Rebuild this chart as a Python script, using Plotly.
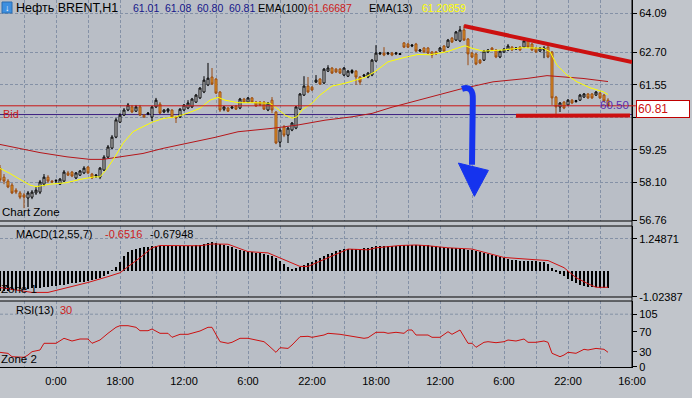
import plotly.graph_objects as go

# ---------------- data ----------------
opens = [58.60, 58.28, 58.14, 58.00, 57.82, 57.72, 57.65, 57.54, 57.57, 57.72,
         57.75, 58.03, 58.28, 58.14, 58.14, 58.03, 58.14, 58.43, 58.46, 58.25,
         58.35, 58.43, 58.64, 58.39, 58.32, 58.28, 58.53, 58.99, 59.31, 59.70,
         60.23, 60.48, 60.66, 60.77, 60.62, 60.77, 60.48, 60.52, 60.41, 60.77,
         60.87, 60.59, 60.62, 60.66, 60.41, 60.41, 60.66, 60.73, 60.77, 60.94,
         61.09, 61.30, 61.55, 61.83, 61.76, 61.30, 60.69, 60.73, 60.73, 60.80,
         60.73, 61.05, 60.94, 61.09, 60.94, 60.94, 60.94, 60.66, 61.01, 60.59,
         59.52, 60.06, 59.77, 59.95, 60.02, 60.69, 61.19, 61.51, 61.47, 61.65,
         61.76, 61.62, 62.04, 62.15, 62.11, 62.11, 61.90, 61.86, 61.99, 62.04,
         61.83, 61.86, 61.83, 61.90, 62.40, 62.65, 62.68, 62.65, 62.68, 62.65,
         62.63, 63.04, 63.00, 62.93, 63.00, 62.75, 62.86, 62.86, 62.72, 62.72,
         62.75, 62.93, 62.89, 63.21, 63.14, 63.11, 63.50, 63.18, 62.68, 62.65,
         62.43, 62.43, 62.72, 62.86, 62.79, 62.54, 62.72, 62.79, 62.89, 62.82,
         62.89, 62.89, 63.11, 63.00, 62.86, 62.75, 62.79, 62.89, 62.72, 61.12,
         60.77, 60.94, 60.84, 61.01, 60.96, 61.01, 61.12, 61.23, 61.23, 61.19,
         61.26, 61.19, 61.01]
closes = [58.18, 58.14, 57.93, 57.72, 57.75, 57.57, 57.57, 57.72, 57.75, 57.82,
          58.11, 58.28, 58.14, 58.11, 58.16, 58.21, 58.46, 58.35, 58.32, 58.43,
          58.50, 58.60, 58.43, 58.25, 58.35, 58.60, 58.99, 59.35, 59.70, 60.31,
          60.48, 60.66, 60.84, 60.59, 60.77, 60.48, 60.41, 60.55, 60.77, 61.01,
          60.55, 60.66, 60.69, 60.41, 60.38, 60.69, 60.84, 60.91, 61.05, 61.19,
          61.44, 61.72, 61.79, 61.58, 61.26, 60.66, 60.77, 60.62, 60.77, 60.69,
          61.05, 60.94, 61.09, 60.94, 60.80, 60.84, 60.69, 60.91, 60.66, 59.49,
          59.95, 59.77, 60.02, 60.20, 60.77, 61.23, 61.51, 61.30, 61.37, 61.72,
          61.58, 62.11, 62.15, 61.97, 62.01, 61.97, 62.15, 62.04, 62.06, 61.83,
          61.65, 61.90, 61.97, 62.43, 62.68, 62.68, 62.61, 62.68, 62.61, 62.68,
          62.66, 62.89, 62.89, 62.96, 62.75, 62.79, 62.72, 62.68, 62.61, 62.65,
          62.86, 62.75, 63.14, 63.07, 63.43, 63.50, 63.14, 62.65, 62.54, 62.29,
          62.33, 62.75, 62.79, 62.79, 62.54, 62.75, 62.82, 62.93, 62.79, 62.86,
          62.79, 63.11, 62.89, 62.79, 62.72, 62.86, 62.86, 62.54, 61.09, 60.77,
          60.91, 60.73, 61.01, 60.91, 60.99, 61.19, 61.23, 61.09, 61.09, 61.30,
          61.09, 60.98, 60.81]
highs = [58.71, 58.39, 58.21, 58.07, 57.89, 57.79, 57.72, 57.79, 57.82, 57.93,
         58.18, 58.39, 58.35, 58.18, 58.21, 58.25, 58.53, 58.50, 58.50, 58.46,
         58.53, 58.67, 58.67, 58.43, 58.39, 58.64, 59.06, 59.42, 59.77, 60.38,
         60.55, 60.73, 60.91, 60.84, 60.84, 60.84, 60.52, 60.59, 60.80, 61.09,
         60.94, 60.69, 60.73, 60.69, 60.45, 60.73, 60.87, 61.01, 61.09, 61.23,
         61.47, 61.86, 62.33, 62.15, 61.79, 61.33, 60.80, 60.77, 60.80, 60.84,
         61.09, 61.09, 61.12, 61.12, 60.98, 60.98, 60.98, 60.94, 61.12, 60.62,
         60.02, 60.13, 60.06, 60.23, 60.80, 61.26, 61.86, 61.83, 61.51, 61.90,
         61.79, 62.15, 62.25, 62.18, 62.15, 62.15, 62.18, 62.08, 62.11, 62.08,
         61.86, 61.94, 62.01, 62.47, 62.96, 62.72, 62.89, 62.72, 62.72, 62.72,
         62.68, 63.07, 63.04, 63.00, 63.04, 62.82, 62.89, 62.89, 62.75, 62.75,
         62.89, 62.96, 63.18, 63.25, 63.46, 63.64, 63.67, 63.21, 62.72, 62.68,
         62.47, 62.79, 62.82, 62.89, 62.82, 62.79, 62.86, 63.00, 62.93, 62.89,
         62.93, 63.14, 63.14, 63.04, 62.89, 62.89, 62.93, 63.04, 62.75, 61.16,
         60.94, 60.98, 61.05, 61.05, 61.02, 61.23, 61.26, 61.26, 61.26, 61.33,
         61.30, 61.23, 61.08]
lows = [58.11, 58.03, 57.89, 57.68, 57.68, 57.50, 57.18, 57.22, 57.50, 57.65,
        57.68, 57.96, 58.07, 58.07, 58.07, 58.00, 58.11, 58.32, 58.28, 58.21,
        58.32, 58.39, 58.39, 58.21, 58.25, 58.21, 58.50, 58.96, 59.28, 59.66,
        60.20, 60.45, 60.62, 60.55, 60.59, 60.45, 60.38, 60.48, 60.27, 60.73,
        60.52, 60.55, 60.55, 60.38, 60.20, 60.38, 60.62, 60.69, 60.73, 60.91,
        61.05, 61.26, 61.51, 61.55, 61.23, 60.59, 60.62, 60.59, 60.69, 60.66,
        60.69, 60.91, 60.91, 60.91, 60.77, 60.80, 60.66, 60.62, 60.55, 59.45,
        59.35, 59.70, 59.49, 59.91, 59.98, 60.66, 61.16, 61.26, 61.33, 61.62,
        61.55, 61.58, 62.01, 61.94, 61.97, 61.94, 61.86, 61.83, 61.94, 61.55,
        61.55, 61.83, 61.79, 61.86, 62.36, 62.61, 62.57, 62.61, 62.57, 62.61,
        62.61, 62.86, 62.86, 62.89, 62.72, 62.72, 62.68, 62.65, 62.50, 62.61,
        62.72, 62.72, 62.86, 63.04, 63.11, 63.07, 63.11, 62.25, 62.50, 62.25,
        62.29, 62.40, 62.68, 62.75, 62.50, 62.50, 62.68, 62.75, 62.75, 62.79,
        62.75, 62.86, 62.86, 62.75, 62.68, 62.72, 62.50, 62.50, 60.84, 60.52,
        60.59, 60.69, 60.80, 60.87, 60.92, 60.98, 61.09, 61.05, 61.05, 61.16,
        61.05, 60.94, 60.80]

ema13_bar = [0, 2.5, 5, 7.5, 9, 12.5, 16.5, 20, 23.5, 25, 26.5, 28.75, 30.75, 33.25,
             35.75, 38.25, 40.75, 44, 46.75, 50, 52.5, 54.5, 56.25, 59.5, 63.75, 67.5,
             69.25, 71.25, 73, 74.25, 75.5, 78, 80, 83, 86.25, 88.75, 91.25, 93.75,
             97, 101.25, 104.5, 107.5, 111.75, 114.25, 116.25, 118, 120.75, 125.75,
             130.75, 135.75, 137.5, 139.25, 141.75, 144.25, 147.5, 150.75, 152]
ema13_val = [58.59, 58.41, 58.20, 58.00, 57.94, 58.03, 58.08, 58.20, 58.29, 58.29,
             58.53, 59.00, 59.48, 59.89, 60.07, 60.24, 60.36, 60.42, 60.54, 60.72,
             61.01, 61.11, 61.01, 60.92, 60.92, 60.90, 60.72, 60.48, 60.37, 60.42,
             60.66, 60.90, 61.19, 61.51, 61.61, 61.72, 61.82, 62.02, 62.37, 62.53,
             62.63, 62.62, 62.73, 62.85, 62.94, 62.85, 62.75, 62.79, 62.87, 62.85,
             62.73, 62.25, 61.90, 61.66, 61.45, 61.31, 61.21]

ema100_bar = [0, 5, 10, 16.75, 22.5, 25.75, 30, 35.75, 40.75, 46.75, 51.25, 53.75,
              59.5, 68, 74.5, 81.25, 88, 93, 98, 102.5, 107.5, 115, 123.25, 131.75,
              136.75, 140, 145.75, 152]
ema100_val = [59.44, 59.30, 59.15, 59.00, 58.91, 58.91, 59.00, 59.12, 59.30, 59.48,
              59.62, 59.69, 59.89, 60.01, 60.13, 60.30, 60.42, 60.54, 60.76, 60.93,
              61.13, 61.40, 61.66, 61.78, 61.88, 61.84, 61.78, 61.67]

macd_hist = [-0.78, -0.78, -0.78, -0.76, -0.74, -0.72, -0.70, -0.70, -0.68, -0.66,
             -0.66, -0.64, -0.62, -0.60, -0.58, -0.56, -0.55, -0.51, -0.49, -0.47,
             -0.45, -0.43, -0.39, -0.35, -0.31, -0.27, -0.20, -0.12, 0.02, 0.16,
             0.35, 0.59, 0.74, 0.82, 0.86, 0.90, 0.92, 0.94, 0.96, 0.98,
             0.97, 0.98, 0.99, 0.98, 0.97, 0.97, 0.98, 0.99, 0.99, 1.00,
             1.01, 1.05, 1.09, 1.11, 1.09, 1.05, 1.01, 0.98, 0.92, 0.86,
             0.82, 0.78, 0.74, 0.72, 0.70, 0.68, 0.66, 0.62, 0.59, 0.51,
             0.39, 0.27, 0.16, 0.08, 0.10, 0.14, 0.21, 0.29, 0.35, 0.43,
             0.51, 0.59, 0.64, 0.70, 0.76, 0.80, 0.84, 0.86, 0.86, 0.86,
             0.86, 0.88, 0.90, 0.94, 0.98, 0.98, 0.98, 0.98, 0.98, 0.98,
             0.98, 1.00, 1.01, 1.01, 1.01, 1.01, 1.00, 1.00, 0.98, 0.96,
             0.94, 0.92, 0.90, 0.90, 0.90, 0.88, 0.86, 0.82, 0.80, 0.76,
             0.72, 0.68, 0.64, 0.62, 0.59, 0.55, 0.51, 0.47, 0.43, 0.41,
             0.39, 0.39, 0.39, 0.39, 0.37, 0.35, 0.35, 0.27, 0.12, -0.02,
             -0.12, -0.20, -0.31, -0.40, -0.48, -0.55, -0.59, -0.62, -0.64, -0.65,
             -0.66, -0.67, -0.68]
signal_bar = [0, 5, 8, 12, 17, 22, 27, 30, 32, 35, 38, 40, 50, 53, 57, 62, 67, 71, 75,
              77, 81, 87, 92, 94, 100, 104, 107, 112, 118, 122, 126, 134, 137, 141,
              144, 147, 149, 152]
signal_val = [-0.66, -0.77, -0.85, -0.85, -0.66, -0.46, -0.23, -0.08, 0.16, 0.51,
              0.90, 0.99, 0.98, 1.05, 1.04, 0.75, 0.70, 0.43, 0.17, 0.17, 0.43, 0.85,
              0.82, 0.90, 0.99, 1.01, 0.98, 0.90, 0.85, 0.70, 0.52, 0.43, 0.40, 0.12,
              -0.27, -0.51, -0.65, -0.65]

rsi_bar = [0, 2, 3, 6, 7, 8, 10, 11, 12, 14, 16, 18, 20, 22, 23, 25, 27, 29, 30, 32,
           34, 35, 37, 38, 40, 42, 43, 45, 47, 50, 52, 53, 55, 57, 58, 60, 62, 64, 66,
           67, 69, 70, 72, 73, 75, 77, 78, 81, 82, 85, 87, 89, 91, 92, 94, 96, 97, 99,
           101, 102, 103, 104, 107, 108, 110, 112, 113, 115, 117, 118, 119, 121, 122,
           124, 126, 127, 129, 131, 132, 134, 136, 137, 138, 140, 141, 142, 144, 146,
           147, 149, 151, 152]
rsi_val = [28.7, 26.7, 20.0, 18.8, 23.4, 30.0, 33.4, 46.8, 46.8, 46.8, 56.8, 51.4,
           55.4, 55.4, 46.8, 53.4, 66.8, 78.8, 82.0, 82.0, 78.8, 72.0, 72.0, 75.4,
           66.8, 66.8, 58.8, 64.8, 64.8, 71.4, 78.8, 78.8, 50.0, 46.8, 48.8, 56.8,
           56.8, 53.4, 50.0, 43.4, 28.7, 38.0, 36.6, 43.4, 60.0, 60.8, 58.8, 63.4,
           66.8, 64.8, 62.0, 60.0, 56.8, 58.0, 68.8, 68.8, 66.8, 68.8, 66.8, 73.4,
           73.4, 63.4, 63.4, 58.8, 58.8, 70.0, 64.8, 73.4, 46.8, 46.8, 38.8, 48.8,
           50.0, 48.0, 50.0, 53.4, 51.4, 55.4, 48.8, 48.8, 51.4, 48.8, 26.8, 20.0,
           23.4, 28.8, 26.8, 34.8, 33.4, 36.6, 34.8, 28.8]

price_ticks = [64.09, 62.70, 61.55, 60.40, 59.25, 58.10, 56.76]
price_tick_labels = ["64.09", "62.70", "61.55", "", "59.25", "58.10", "56.76"]
macd_ticks = [1.24871, -1.02387]
macd_tick_labels = ["1.24871", "-1.02387"]
rsi_ticks = [105, 70, 30, 0]
rsi_tick_labels = ["105", "70", "30", "0"]
grid_bars = [6, 14, 22, 30, 38, 46, 54, 62, 70, 78, 86, 94, 102, 110, 118, 126, 134,
             142, 150, 158]
time_tick_bars = [14, 30, 46, 62, 78, 94, 110, 126, 142, 158]
time_tick_labels = ["0:00", "18:00", "12:00", "6:00", "22:00", "18:00", "12:00",
                    "6:00", "22:00", "16:00"]

bid_price = 60.81
level_price = 60.50
upper_trend = [(116, 63.64), (158, 62.36)]
lower_trend = [(129, 60.46), (157.5, 60.47)]

# ---------------- styling helpers ----------------
PLOT_W, PLOT_H = 632, 367


def px(x):
    return x / PLOT_W


def py(y):
    return 1 - y / PLOT_H


FONT = "Liberation Sans, Arial, sans-serif"
GRID = "#8491a6"
GDASH = "3px,2px"
BG = "#b9bec6"
PAPER = "#c1c5cb"

bars = list(range(len(closes)))
dom_main = [py(221), 1]
dom_macd = [py(297), py(226)]
dom_rsi = [0, py(301)]

fig = go.Figure()
fig.add_trace(go.Candlestick(
    x=bars, open=opens, high=highs, low=lows, close=closes,
    increasing=dict(line=dict(color="#000000", width=1), fillcolor="#ffffff"),
    decreasing=dict(line=dict(color="#9a4a10", width=1), fillcolor="#eea42a"),
    whiskerwidth=0, xaxis="x", yaxis="y", hoverinfo="skip"))
fig.add_trace(go.Scatter(x=ema100_bar, y=ema100_val, mode="lines",
                         line=dict(color="#b5161a", width=1), xaxis="x", yaxis="y"))
fig.add_trace(go.Scatter(x=ema13_bar, y=ema13_val, mode="lines",
                         line=dict(color="#ffff00", width=1), xaxis="x", yaxis="y"))
fig.add_trace(go.Bar(x=bars, y=macd_hist, width=0.3, marker=dict(color="#000000", line=dict(width=0)),
                     xaxis="x2", yaxis="y2"))
fig.add_trace(go.Scatter(x=signal_bar, y=signal_val, mode="lines",
                         line=dict(color="#d01212", width=1), xaxis="x2", yaxis="y2"))
fig.add_trace(go.Scatter(x=rsi_bar, y=rsi_val, mode="lines",
                         line=dict(color="#cc1111", width=1), xaxis="x3", yaxis="y3"))

xcommon = dict(range=[0, 158], showgrid=True, gridcolor=GRID, griddash=GDASH, gridwidth=1,
               tickvals=grid_bars, zeroline=False, fixedrange=True)
xlabels = [time_tick_labels[time_tick_bars.index(b)] if b in time_tick_bars else "" for b in grid_bars]
ycommon = dict(side="right", ticks="outside", ticklen=4, tickcolor="#000000",
               showline=True, linecolor="#000000", linewidth=1, zeroline=False,
               tickfont=dict(family=FONT, size=11, color="#000000"))

fig.update_layout(
    width=692, height=398, autosize=False,
    margin=dict(l=0, r=60, t=0, b=31),
    paper_bgcolor=PAPER, plot_bgcolor=BG, showlegend=False, bargap=0,
    font=dict(family=FONT, size=11, color="#000000"),
    xaxis=dict(**xcommon, anchor="y", showticklabels=False, rangeslider=dict(visible=False)),
    xaxis2=dict(**xcommon, anchor="y2", matches="x", showticklabels=False),
    xaxis3=dict(**xcommon, anchor="y3", matches="x", ticktext=xlabels, showticklabels=True,
                showline=True, linecolor="#000000", ticks="", ticklabelstandoff=4,
                tickfont=dict(family=FONT, size=11, color="#000000")),
    yaxis=dict(**ycommon, domain=dom_main, range=[56.725, 64.562], tickvals=price_ticks,
               ticktext=price_tick_labels, showgrid=True, gridcolor=GRID, griddash=GDASH),
    yaxis2=dict(**ycommon, domain=dom_macd, range=[-1.03, 1.755], tickvals=macd_ticks,
                ticktext=macd_tick_labels, showgrid=True, gridcolor=GRID, griddash=GDASH),
    yaxis3=dict(**ycommon, domain=dom_rsi, range=[-0.6, 131.4], tickvals=rsi_ticks,
                ticktext=rsi_tick_labels, showgrid=False),
)

shapes = []
# panel separators and right axis line
for yy in [dom_main[0], dom_macd[1], dom_macd[0], dom_rsi[1]]:
    shapes.append(dict(type="line", xref="paper", yref="paper", x0=0, x1=1, y0=yy, y1=yy,
                       line=dict(color="#000000", width=1)))
shapes.append(dict(type="line", xref="paper", yref="paper", x0=1, x1=1, y0=0, y1=1,
                   line=dict(color="#000000", width=1)))
# RSI 105 level
shapes.append(dict(type="line", xref="paper", yref="y3", x0=0, x1=1, y0=105, y1=105,
                   line=dict(color=GRID, width=1, dash=GDASH), layer="below"))
# Bid and 60.50 level lines
shapes.append(dict(type="line", xref="paper", yref="y", x0=0, x1=1.006, y0=bid_price, y1=bid_price,
                   line=dict(color="#c81414", width=1), layer="above"))
shapes.append(dict(type="line", xref="paper", yref="y", x0=0, x1=1, y0=level_price, y1=level_price,
                   line=dict(color="#3b1f80", width=1), layer="below"))
# trend lines
for (a, b) in [upper_trend, lower_trend]:
    shapes.append(dict(type="line", xref="x", yref="y", x0=a[0], y0=a[1], x1=b[0], y1=b[1],
                       line=dict(color="#cc1010", width=4), layer="above"))
# blue arrow
shapes.append(dict(type="path", xref="x", yref="y",
                   path="M 115.5,61.41 Q 118.4,61.55 118.2,61.0 L 118.0,58.72",
                   line=dict(color="#1533ee", width=6), layer="above"))
shapes.append(dict(type="path", xref="x", yref="y",
                   path="M 114.6,58.78 L 122.1,58.52 L 118.6,57.60 Z",
                   fillcolor="#1533ee", line=dict(color="#1533ee", width=1), layer="above"))
# header icon
shapes.append(dict(type="rect", xref="paper", yref="paper", x0=px(2), x1=px(12), y0=py(13), y1=py(2),
                   fillcolor="#3d8fe0", line=dict(color="#2a6cb0", width=1)))
fig.update_layout(shapes=shapes)

ann = []


def text(x, y, s, color="#000000", size=11, anchor="left"):
    ann.append(dict(xref="paper", yref="paper", x=px(x), y=py(y), text=s, showarrow=False,
                    xanchor=anchor, yanchor="middle", font=dict(family=FONT, size=size, color=color)))


text(7.2, 7.5, "↓", "#ffffff", 9, "center")
text(14, 8.5, "Нефть BRENT,H1", size=12.5)
text(131, 8.5, "61.01", "#16168a", 10.5)
text(163, 8.5, "61.08", "#16168a", 10.5)
text(195, 8.5, "60.80", "#16168a", 10.5)
text(227, 8.5, "60.81", "#16168a", 10.5)
text(256, 8.5, "EMA(100)")
text(306, 8.5, "61.66687", "#cc2020", 10.5)
text(367, 8.5, "EMA(13)")
text(420, 8.5, "61.20859", "#ffff00", 10.5)
text(0, 212, "Chart Zone", size=11.5)
text(1, 113.5, "Bid", "#cc2020")
text(631, 105.5, "60.50", "#5a2db0", 11.5, "right")
text(14, 234, "MACD(12,55,7)")
text(103, 234, "-0.6516", "#cc2020")
text(148, 234, "-0.67948")
text(-1, 289, "Zone 1", size=11.5)
text(14, 310, "RSI(13)")
text(58, 310, "30", "#cc2020")
text(-1, 359, "Zone 2", size=11.5)
ann.append(dict(xref="paper", yref="y", x=px(636), y=bid_price - 0.1, text="60.81", showarrow=False,
                xanchor="left", yanchor="middle", align="left", width=50, bgcolor="#ffffff",
                bordercolor="#c00000", borderwidth=1, borderpad=1,
                font=dict(family=FONT, size=12, color="#cc1010")))
fig.update_layout(annotations=ann)

fig.write_html("out.html", config={"displayModeBar": False},
               post_script="document.body.style.margin='0';document.body.style.overflow='hidden';")
